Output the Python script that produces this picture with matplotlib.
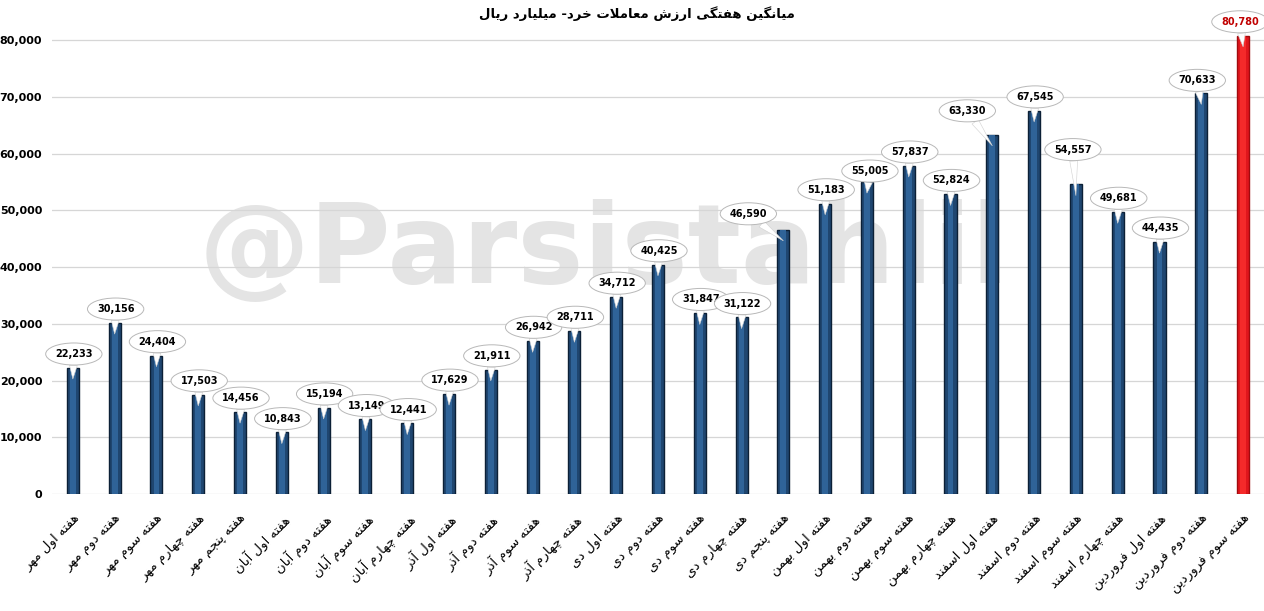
import matplotlib
matplotlib.use("Agg")
import matplotlib.pyplot as plt
import numpy as np

# Weekly average value of retail trades (billion rials)
title_text = "میانگین هفتگی ارزش معاملات خرد- میلیارد ریال"

weeks = [
    "هفته اول مهر", "هفته دوم مهر", "هفته سوم مهر", "هفته چهارم مهر",
    "هفته پنجم مهر", "هفته اول آبان", "هفته دوم آبان", "هفته سوم آبان",
    "هفته چهارم آبان", "هفته اول آذر", "هفته دوم آذر", "هفته سوم آذر",
    "هفته چهارم آذر", "هفته اول دی", "هفته دوم دی", "هفته سوم دی",
    "هفته چهارم دی", "هفته پنجم دی", "هفته اول بهمن", "هفته دوم بهمن",
    "هفته سوم بهمن", "هفته چهارم بهمن", "هفته اول اسفند", "هفته دوم اسفند",
    "هفته سوم اسفند", "هفته چهارم اسفند", "هفته اول فروردین",
    "هفته دوم فروردین", "هفته سوم فروردین",
]

values = [
    22233, 30156, 24404, 17503, 14456, 10843, 15194, 13149, 12441, 17629,
    21911, 26942, 28711, 34712, 40425, 31847, 31122, 46590, 51183, 55005,
    57837, 52824, 63330, 67545, 54557, 49681, 44435, 70633, 80780,
]

y_ticks = [0, 10000, 20000, 30000, 40000, 50000, 60000, 70000, 80000]
watermark = "@Parsistahlil"

# --- minimal Persian shaping (matplotlib 3.10 has no complex text layout) ---
# letter: (isolated, final, initial, medial); None = does not join forward
FORMS = {
    "ا": ("\uFE8D", "\uFE8E", None, None),
    "آ": ("\uFE81", "\uFE82", None, None),
    "ب": ("\uFE8F", "\uFE90", "\uFE91", "\uFE92"),
    "پ": ("\uFB56", "\uFB57", "\uFB58", "\uFB59"),
    "ت": ("\uFE95", "\uFE96", "\uFE97", "\uFE98"),
    "ج": ("\uFE9D", "\uFE9E", "\uFE9F", "\uFEA0"),
    "چ": ("\uFB7A", "\uFB7B", "\uFB7C", "\uFB7D"),
    "خ": ("\uFEA5", "\uFEA6", "\uFEA7", "\uFEA8"),
    "د": ("\uFEA9", "\uFEAA", None, None),
    "ذ": ("\uFEAB", "\uFEAC", None, None),
    "ر": ("\uFEAD", "\uFEAE", None, None),
    "ز": ("\uFEAF", "\uFEB0", None, None),
    "ژ": ("\uFB8A", "\uFB8B", None, None),
    "س": ("\uFEB1", "\uFEB2", "\uFEB3", "\uFEB4"),
    "ش": ("\uFEB5", "\uFEB6", "\uFEB7", "\uFEB8"),
    "ع": ("\uFEC9", "\uFECA", "\uFECB", "\uFECC"),
    "ف": ("\uFED1", "\uFED2", "\uFED3", "\uFED4"),
    "ک": ("\uFB8E", "\uFB8F", "\uFB90", "\uFB91"),
    "گ": ("\uFB92", "\uFB93", "\uFB94", "\uFB95"),
    "ل": ("\uFEDD", "\uFEDE", "\uFEDF", "\uFEE0"),
    "م": ("\uFEE1", "\uFEE2", "\uFEE3", "\uFEE4"),
    "ن": ("\uFEE5", "\uFEE6", "\uFEE7", "\uFEE8"),
    "ه": ("\uFEE9", "\uFEEA", "\uFEEB", "\uFEEC"),
    "و": ("\uFEED", "\uFEEE", None, None),
    "ی": ("\uFBFC", "\uFBFD", "\uFBFE", "\uFBFF"),
}
LAM_ALEF = {"ا": ("\uFEFB", "\uFEFC"), "آ": ("\uFEF5", "\uFEF6")}


def shape(text):
    out = []
    i = 0
    n = len(text)
    while i < n:
        c = text[i]
        if c not in FORMS:
            out.append(c)
            i += 1
            continue
        prev = text[i - 1] if i > 0 else ""
        joins_prev = prev in FORMS and FORMS[prev][2] is not None
        if c == "ل" and i + 1 < n and text[i + 1] in LAM_ALEF:
            out.append(LAM_ALEF[text[i + 1]][1 if joins_prev else 0])
            i += 2
            continue
        nxt = text[i + 1] if i + 1 < n else ""
        joins_next = nxt in FORMS and FORMS[c][2] is not None
        iso, fin, ini, med = FORMS[c]
        if joins_prev and joins_next:
            out.append(med)
        elif joins_prev:
            out.append(fin)
        elif joins_next:
            out.append(ini)
        else:
            out.append(iso)
        i += 1
    return "".join(out)[::-1]


# label bubble offsets in pixels (dx, dy) where they are not straight above
default_offset = (1, 25)
label_offsets = {17: (-35, 27), 19: (3, 22), 22: (-25, 35), 24: (-3, 46),
                 27: (-4, 24), 28: (-3, 25)}

fig = plt.figure(figsize=(12.64, 6.11), dpi=100)
ax = fig.add_axes([0.0411, 0.1915, 0.9589, 0.7615])

x = np.arange(len(values))
ymax = 82000
colors = ["#1f4670"] * len(values)
edges = ["#0c2036"] * len(values)
colors[-1] = "#e0161c"
edges[-1] = "#a00b0e"
shine = ["#2f6398"] * len(values)
shine[-1] = "#f52a2a"

ax.bar(x, values, width=0.29, color=colors, edgecolor=edges, linewidth=1.0, zorder=2)
ax.bar(x, values, width=0.14, color=shine, linewidth=0, zorder=2.1)

ax.set_xlim(-0.5, len(values) - 0.5)
ax.set_ylim(0, ymax)
ax.set_yticks(y_ticks)
ax.set_yticklabels(["0" if v == 0 else f"{v:,}" for v in y_ticks],
                   fontsize=8, fontweight="bold", family="DejaVu Sans")
ax.tick_params(axis="y", length=0, pad=7)
ax.tick_params(axis="x", length=0, pad=13)
ax.grid(axis="y", color="#d6d6d6", linewidth=0.9)
ax.set_axisbelow(True)
for s in ax.spines.values():
    s.set_visible(False)

ax.set_xticks(x)
ax.set_xticklabels([shape(w) for w in weeks], rotation=45, ha="right",
                   rotation_mode="anchor", fontsize=9.5, family="DejaVu Sans")

# watermark
ax.text(0.456, 0.52, watermark, transform=ax.transAxes, fontsize=80,
        fontweight="bold", color="#e4e4e4", ha="center", va="center",
        zorder=0.5, family="DejaVu Sans")

# value bubbles
notch = 0.024 * ymax
for i, v in enumerate(values):
    dx, dy = label_offsets.get(i, default_offset)
    ax.annotate(
        f"{v:,}", xy=(i, v - notch), xytext=(dx, dy), textcoords="offset pixels",
        ha="center", va="center", fontsize=7, fontweight="bold",
        color="#c00000" if i == len(values) - 1 else "black",
        family="DejaVu Sans", zorder=5,
        bbox=dict(boxstyle="ellipse,pad=0.12", fc="white", ec="#b8b8b8", lw=0.7,
                  mutation_aspect=2.4),
        arrowprops=dict(arrowstyle="wedge,tail_width=0.8", fc="white",
                        ec="#d0d0d0", lw=0.4, shrinkA=0, shrinkB=0),
        annotation_clip=False,
    )

fig.text(637 / 1264, 1 - 14 / 611, shape(title_text), ha="center", va="center",
         fontsize=9.5, fontweight="bold", family="DejaVu Sans")

fig.savefig("out.png", dpi=100)
